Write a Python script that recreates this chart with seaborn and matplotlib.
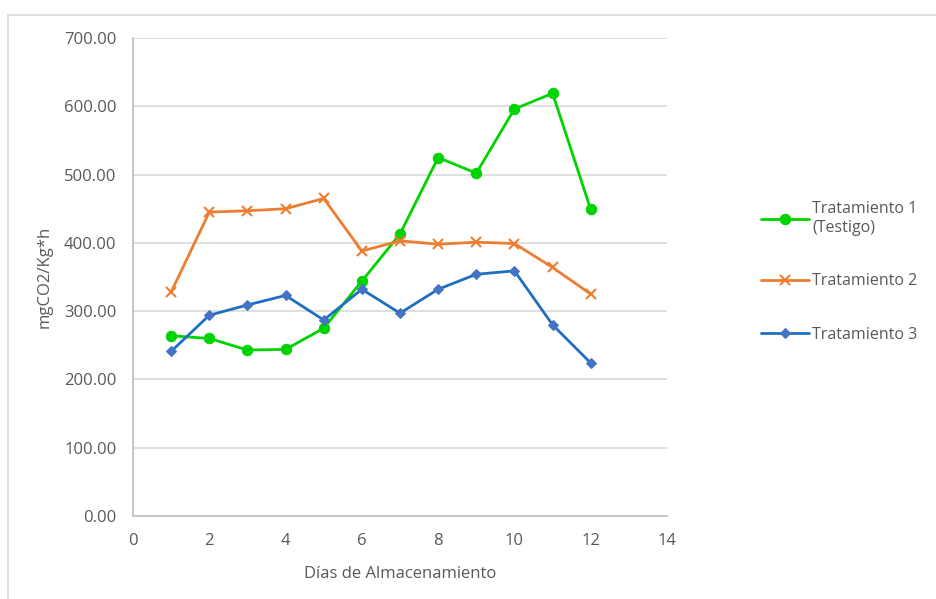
import matplotlib
matplotlib.use("Agg")
import matplotlib.pyplot as plt
import seaborn as sns
import pandas as pd
from matplotlib.patches import Rectangle

days = [1, 2, 3, 4, 5, 6, 7, 8, 9, 10, 11, 12]
trat1 = [264, 260, 243, 244, 275, 344, 413, 525, 502, 596, 619, 449]
trat2 = [328, 445, 447, 450, 465, 388, 403, 398, 401, 399, 364, 325]
trat3 = [241, 294, 309, 323, 287, 332, 297, 332, 354, 359, 280, 224]
labels = ["Tratamiento 1\n(Testigo)", "Tratamiento 2", "Tratamiento 3"]
yticks = [0, 100, 200, 300, 400, 500, 600, 700]
xticks = [0, 2, 4, 6, 8, 10, 12, 14]

sns.set_theme(style="white")
plt.rcParams['font.family'] = ['Open Sans', 'DejaVu Sans']

fig = plt.figure(figsize=(9.36, 5.99), dpi=100)
ax = fig.add_axes([133/936, 1-516/599, (667-133)/936, (516-38)/599])

fig.patches.append(Rectangle((8/936, -0.1), 1.2, 1 - 15/599 + 0.1, transform=fig.transFigure,
                             fill=False, edgecolor="#D9D9D9", lw=1.2, zorder=-1))

styles = [
    dict(color="#00D400", marker="o", markersize=7.5, mfc="#00D400", mec="#00D400"),
    dict(color="#ED7D31", marker="x", markersize=7, mew=1.5, mec="#ED7D31", mfc="#ED7D31"),
    dict(color="#1F6FC0", marker="D", markersize=5.5, mfc="#4472C4", mec="#4472C4"),
]
for vals, lab, st in zip([trat1, trat2, trat3], labels, styles):
    df = pd.DataFrame({"dia": days, "val": vals})
    sns.lineplot(data=df, x="dia", y="val", ax=ax, label=lab, linewidth=2, **st)

ax.set_xlim(0, 14)
ax.set_ylim(0, 700)
ax.set_xticks(xticks)
ax.set_yticks(yticks)
ax.set_yticklabels([f"{v:.2f}" for v in yticks])
ax.yaxis.grid(True, color="#D9D9D9", lw=1.2)
ax.xaxis.grid(False)
ax.set_axisbelow(True)
for s in ["top", "right"]:
    ax.spines[s].set_visible(False)
for s in ["left", "bottom"]:
    ax.spines[s].set_color("#BFBFBF")
    ax.spines[s].set_linewidth(1.2)
ax.tick_params(axis="both", colors="#595959", labelsize=12, length=4.5, width=1, direction="out")
ax.tick_params(axis="x", color="#BFBFBF", pad=8)
ax.tick_params(axis="y", color="#BFBFBF", pad=7.5)
ax.set_xlabel("Días de Almacenamiento", fontsize=12, color="#595959", labelpad=12)
ax.set_ylabel("mgCO2/Kg*h", fontsize=12, color="#595959", labelpad=8)

ax.legend(loc="upper left", bbox_to_anchor=(755/936, 1-195/599), bbox_transform=fig.transFigure,
          frameon=False, fontsize=11.5, labelcolor="#595959", handlelength=3.0,
          labelspacing=2.35, handletextpad=0.2, borderaxespad=0)

fig.savefig("out.png", dpi=100)
